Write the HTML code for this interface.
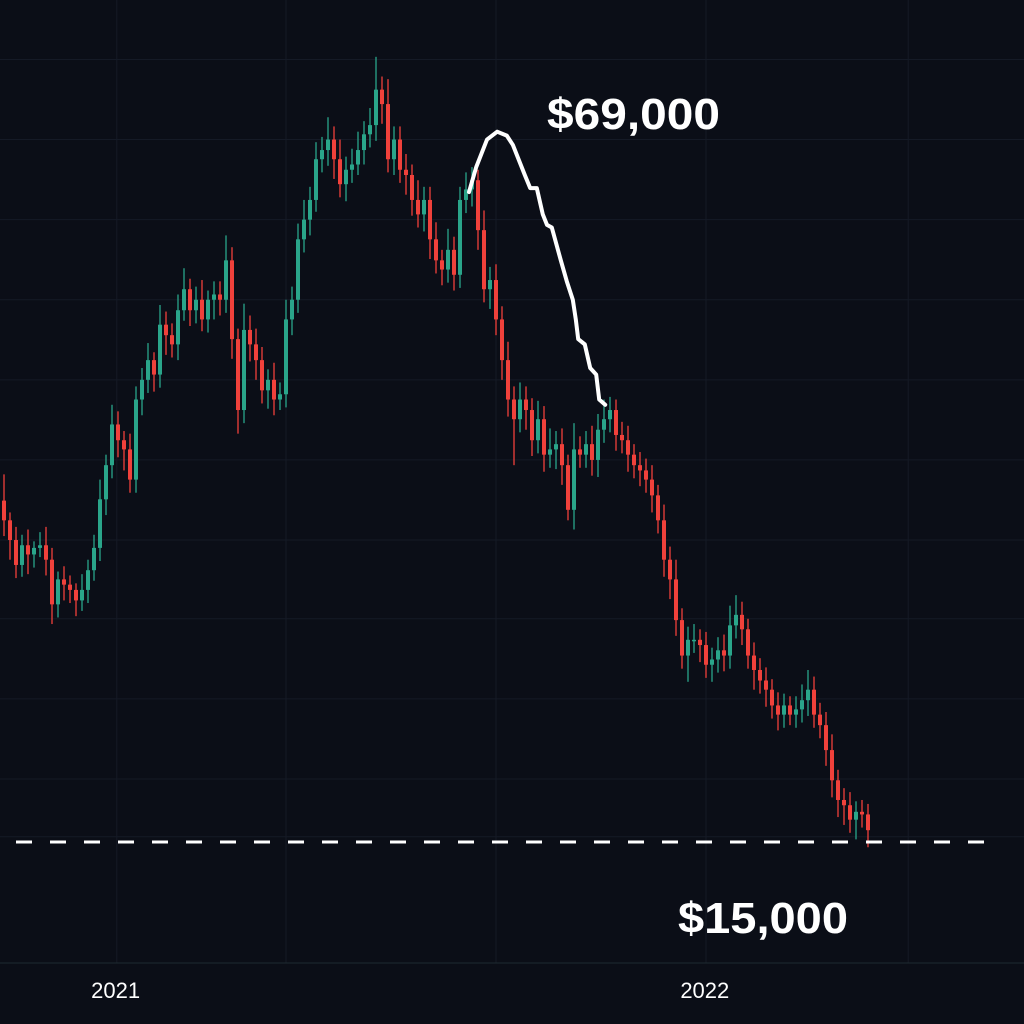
<!DOCTYPE html>
<html><head><meta charset="utf-8"><style>
html,body{margin:0;padding:0;background:#0b0e17;}
#wrap{position:relative;width:1024px;height:1024px;overflow:hidden;background:#0b0e17;font-family:"Liberation Sans",sans-serif;}
svg{position:absolute;left:0;top:0;}
</style></head><body>
<div id="wrap">
<svg id="chart" width="1024" height="1024"></svg>
</div>
<script>
const closes=[39.5,38.0,36.1,37.6,36.9,37.4,37.6,36.5,33.1,35.0,34.6,34.2,33.4,34.2,35.7,37.4,41.1,43.7,46.8,45.6,44.9,42.6,48.7,50.2,51.7,50.6,54.4,53.6,52.9,55.5,57.1,55.5,56.3,54.8,56.3,56.7,56.3,59.3,53.3,47.9,54.0,52.9,51.7,49.4,50.2,48.7,49.1,54.8,56.3,60.9,62.4,63.9,67.0,67.7,68.5,67.0,65.1,66.2,66.6,67.7,68.9,69.6,72.3,71.2,67.0,68.5,66.2,65.8,63.9,62.8,63.9,60.9,59.3,58.6,60.1,58.2,63.9,64.7,65.4,61.6,57.1,57.8,54.8,51.7,48.7,47.2,48.7,47.9,45.6,47.2,44.5,44.9,45.3,43.7,40.3,44.9,44.5,45.3,44.1,46.4,47.2,47.9,46.0,45.6,44.5,43.7,43.3,42.6,41.4,39.5,36.5,35.0,31.9,29.2,30.4,30.4,30.0,28.5,28.9,29.6,29.2,31.5,32.3,31.2,29.2,28.1,27.3,26.6,25.4,24.7,25.4,24.7,25.1,25.8,26.6,24.7,23.9,22.0,19.7,18.2,17.8,16.7,17.3,17.1,15.9];
const firstOpen=41.0;
const wickUp=[2.0,0.6,1.0,0.8,1.2,0.5,1.0,1.4,0.9,0.6,1.0,0.7,0.5,1.2,0.8,1.0,1.5,0.8,1.5,1.0,0.7,1.2,1.0,0.9,1.3,0.6,1.5,1.0,0.9,1.2,1.6,0.8,1.0,1.5,0.7,1.0,1.0,1.9,1.0,0.8,2.0,1.1,1.2,1.0,0.8,1.3,0.9,1.5,1.0,1.2,1.5,1.0,1.3,1.0,1.7,1.0,1.5,1.0,1.2,1.4,1.0,1.3,2.5,1.0,1.9,1.0,1.0,1.2,0.8,1.5,1.0,1.0,1.3,0.8,1.6,1.0,1.0,1.3,1.0,0.8,1.5,1.0,1.2,1.0,1.4,1.0,1.3,1.0,0.9,1.4,1.0,1.6,1.0,1.2,0.8,2.0,1.0,1.0,1.4,1.2,1.5,1.0,0.8,1.0,1.1,0.8,1.0,0.9,1.1,0.8,1.2,1.0,1.5,0.9,1.0,1.2,0.8,1.0,0.9,1.0,1.2,1.5,1.5,1.0,0.8,1.0,0.9,1.0,0.8,1.0,0.9,0.7,1.0,1.2,1.5,1.0,0.9,1.0,1.2,0.8,0.9,1.0,0.8,0.9,0.8];
const wickDown=[1.2,1.5,1.0,0.9,1.5,1.0,0.7,1.2,1.5,1.0,1.2,1.0,1.2,0.8,1.0,0.8,1.0,1.2,1.0,1.3,1.6,1.0,1.0,1.2,1.0,1.3,1.0,1.5,1.0,1.2,0.8,1.2,1.0,0.9,1.0,1.5,1.2,1.0,1.5,1.8,1.0,1.3,1.5,1.0,1.4,1.2,0.8,1.0,1.2,1.0,1.0,1.2,0.9,1.0,1.2,1.5,1.0,1.3,1.0,0.8,1.1,1.0,1.2,1.5,1.0,1.2,1.0,1.5,1.2,1.0,1.3,1.5,1.0,1.2,1.0,1.2,1.0,1.0,1.3,1.5,1.0,1.5,1.2,1.5,1.3,3.5,1.0,1.5,1.2,1.0,1.3,1.0,1.5,1.5,0.8,1.5,1.0,1.0,1.2,1.3,1.0,1.0,1.2,1.0,1.3,1.0,1.2,1.0,1.3,1.0,1.3,1.5,1.2,1.0,2.0,1.0,1.3,1.0,1.3,1.0,1.2,1.0,1.0,1.2,1.0,1.5,1.0,1.3,1.0,1.2,1.0,0.8,1.0,1.0,1.2,1.0,1.0,1.2,1.3,1.3,1.5,1.0,1.5,1.0,1.3,1.2,2.0];
const peakIdx=[77.5,78.7,80.5,82.2,83.8,84.8,86.8,87.7,88.8,89.8,90.5,91.3,92.8,93.8,94.8,95.3,95.7,96.8,97.7,98.7,99.2,100.2];
const peakPrice=[64.5,66.4,68.5,69.1,68.8,68.1,65.8,64.8,64.8,62.8,62.0,61.8,59.3,57.7,56.3,54.8,53.3,52.9,51.1,50.6,48.7,48.3];
const supportPrice=15.0;
const yTickPrices=[80.7,74.6,68.5,62.4,56.3,50.2,44.1,38.0,32.0,25.9,19.8,15.4];
const xGridIdx=[18.8,47,82,117,150.7];
const yearLabels=["2021","2022"];
const yearIdx=[18.6,116.8];

const NS="http://www.w3.org/2000/svg";
const svg=document.getElementById('chart');
const X=i=>4+i*6;
const Y=p=>842-(p-15)*13.13;
function mk(tag,attrs){const e=document.createElementNS(NS,tag);for(const k in attrs)e.setAttribute(k,attrs[k]);svg.appendChild(e);return e;}

yTickPrices.forEach(p=>{
  const l=mk('line',{x1:0,x2:1024,y1:Y(p),y2:Y(p),stroke:'#151a26','stroke-width':1});
  
  
});
xGridIdx.forEach(i=>{
  const l=mk('line',{x1:X(i),x2:X(i),y1:0,y2:963,stroke:'#151a26','stroke-width':1});
  
  
});
const ax=mk('line',{x1:0,x2:1024,y1:963,y2:963,stroke:'#1e2a30','stroke-width':1});



let prev=firstOpen;
closes.forEach((c,i)=>{
  const o=prev;prev=c;
  const up=c>=o;
  const col=up?'#2aa58a':'#f0413b';
  const hi=Math.max(o,c)+wickUp[i], lo=Math.min(o,c)-wickDown[i];
  const g=document.createElementNS(NS,'g');svg.appendChild(g);
  
  
  const w=document.createElementNS(NS,'line');
  w.setAttribute('x1',X(i));w.setAttribute('x2',X(i));w.setAttribute('y1',Y(hi));w.setAttribute('y2',Y(lo));
  w.setAttribute('stroke',col);w.setAttribute('stroke-width',1.3);g.appendChild(w);
  
  
  const b=document.createElementNS(NS,'rect');
  const top=Y(Math.max(o,c)),bot=Y(Math.min(o,c));
  b.setAttribute('x',X(i)-2);b.setAttribute('width',4);b.setAttribute('y',top);b.setAttribute('height',Math.max(1.5,bot-top));
  b.setAttribute('fill',col);g.appendChild(b);
  
  
});

const sl=mk('line',{x1:16,x2:1000,y1:Y(supportPrice),y2:Y(supportPrice),stroke:'#ffffff','stroke-width':3,'stroke-dasharray':'16 18'});



const pts=peakIdx.map((ix,k)=>X(ix)+','+Y(peakPrice[k])).join(' ');
const pl=mk('polyline',{points:pts,fill:'none',stroke:'#ffffff','stroke-width':4,'stroke-linejoin':'round','stroke-linecap':'round'});



function txt(s,x,y,size,weight,name,anchor){
  const t=mk('text',{x:x,y:y,fill:'#ffffff','font-size':size,'font-weight':weight,'font-family':'Liberation Sans, sans-serif','text-anchor':anchor||'start'});
  t.textContent=s;
  
  
  return t;
}
const t1=txt('$69,000',547,129,44,'bold','peak-price-label');
t1.setAttribute('textLength',173);
t1.setAttribute('lengthAdjust','spacingAndGlyphs');
const t2=txt('$15,000',678,933,44,'bold','low-price-label');
t2.setAttribute('textLength',170);
t2.setAttribute('lengthAdjust','spacingAndGlyphs');
yearLabels.forEach((s,k)=>{
  txt(s,X(yearIdx[k]),998,22,'normal','year-label','middle');
});
</script>
</body></html>
